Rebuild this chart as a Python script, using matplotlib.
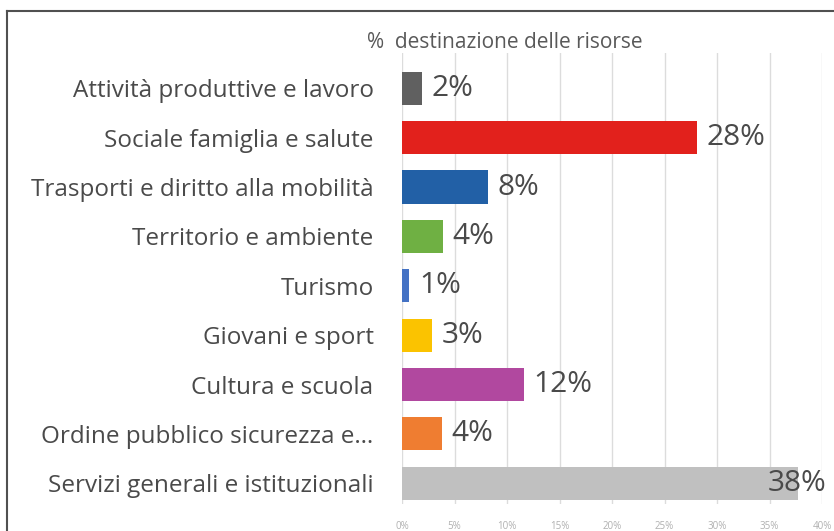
import matplotlib.pyplot as plt
from matplotlib.lines import Line2D

categories = [
    "Attività produttive e lavoro",
    "Sociale famiglia e salute",
    "Trasporti e diritto alla mobilità",
    "Territorio e ambiente",
    "Turismo",
    "Giovani e sport",
    "Cultura e scuola",
    "Ordine pubblico sicurezza e…",
    "Servizi generali e istituzionali",
]
values = [1.9, 28.1, 8.2, 3.9, 0.7, 2.9, 11.6, 3.8, 37.7]
labels = ["2%", "28%", "8%", "4%", "1%", "3%", "12%", "4%", "38%"]
colors = ["#606060", "#e2211c", "#2260a6", "#6fb043", "#4472c4",
          "#fbc300", "#b1489f", "#ef7d31", "#c0c0c0"]
ticks = [0, 5, 10, 15, 20, 25, 30, 35, 40]

plt.rcParams['font.family'] = ['Open Sans', 'DejaVu Sans']

fig = plt.figure(figsize=(8.34, 5.31), dpi=100)
ax = fig.add_axes([402 / 834, 0.0508, (822 - 402) / 834, 0.849])

pos = list(range(len(categories)))
ax.barh(pos, values, height=0.67, color=colors, zorder=3)

for p, v, lab in zip(pos, values, labels):
    # the biggest bar reaches the edge, so its label sits over the bar end
    off = 7 if v < 35 else -22
    ax.annotate(lab, (v, p), xytext=(off, 0), textcoords="offset points",
                va="center", ha="left", fontsize=21.5, color="#4a4a4a",
                annotation_clip=False, zorder=4)

ax.set_xlim(0, 40)
ax.set_ylim(8.42, -0.71)
ax.set_xticks(ticks)
ax.set_xticklabels([f"{t}%" for t in ticks], fontsize=7, color="#b0b0b0")
ax.set_yticks(pos)
ax.set_yticklabels(categories, fontsize=17.5, color="#4a4a4a")
ax.tick_params(axis="y", length=0, pad=20.5)
ax.tick_params(axis="x", length=0, pad=12)
ax.grid(axis="x", color="#dcdcdc", linewidth=1, zorder=0)
for s in ax.spines.values():
    s.set_visible(False)

fig.text(0.605, 1 - 43 / 531, "%  destinazione delle risorse", ha="center",
         va="center", fontsize=15, color="#595959")

# outer frame (left and top edges visible)
fig.add_artist(Line2D([6.5 / 834, 6.5 / 834], [0, 1 - 11 / 531],
                      color="#505050", linewidth=1.5))
fig.add_artist(Line2D([6.5 / 834, 1], [1 - 11 / 531, 1 - 11 / 531],
                      color="#505050", linewidth=1.5))

fig.savefig("out.png", dpi=100)
